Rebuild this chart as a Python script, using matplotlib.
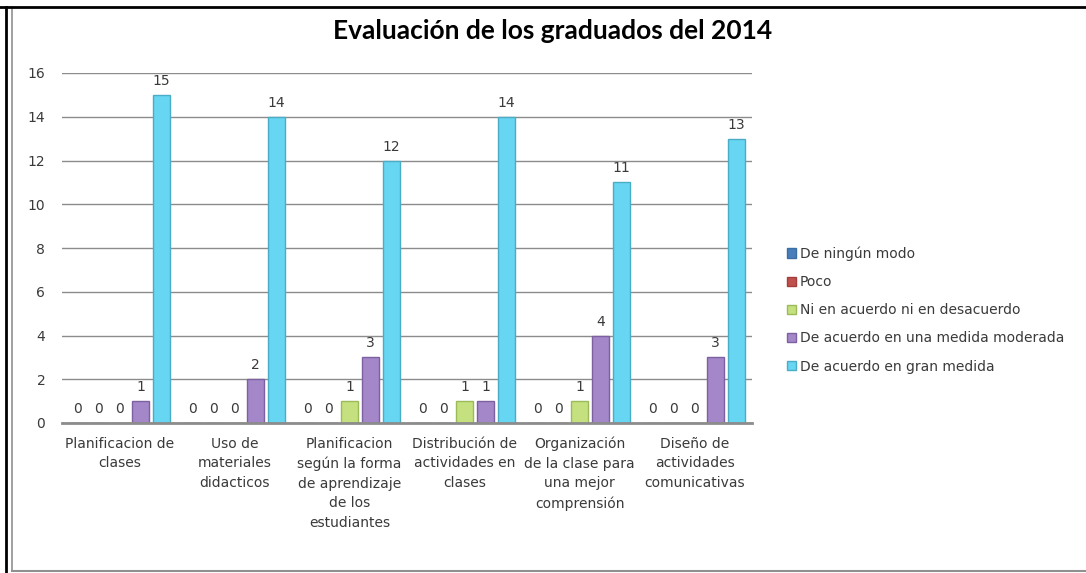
import numpy as np
import matplotlib
matplotlib.use('Agg')
import matplotlib.pyplot as plt
from matplotlib.lines import Line2D

# Datos del gráfico
categorias = ['Planificacion de\nclases',
              'Uso de\nmateriales\ndidacticos',
              'Planificacion\nsegún la forma\nde aprendizaje\nde los\nestudiantes',
              'Distribución de\nactividades en\nclases',
              'Organización\nde la clase para\nuna mejor\ncomprensión',
              'Diseño de\nactividades\ncomunicativas']
series = ['De ningún modo', 'Poco', 'Ni en acuerdo ni en desacuerdo',
          'De acuerdo en una medida moderada', 'De acuerdo en gran medida']
ningun = [0, 0, 0, 0, 0, 0]
poco = [0, 0, 0, 0, 0, 0]
ni_acuerdo = [0, 0, 1, 1, 1, 0]
moderada = [1, 2, 3, 1, 4, 3]
gran = [15, 14, 12, 14, 11, 13]
yticks = [0, 2, 4, 6, 8, 10, 12, 14, 16]

valores = [ningun, poco, ni_acuerdo, moderada, gran]
colores = ['#4a7ebb', '#c0504d', '#c5e17f', '#a487c9', '#67d6f2']
bordes = ['#3a6ea5', '#a33e3b', '#9bbb59', '#7d60a0', '#4bacc6']
texto = '#3a3a3a'

fig = plt.figure(figsize=(10.86, 5.73), dpi=100)
ax = fig.add_axes([62 / 1086, 1 - 423 / 573, 690 / 1086, 350 / 573])

x = np.arange(len(categorias))
paso = 0.183
ancho = 0.148
for i, (vals, nombre) in enumerate(zip(valores, series)):
    pos = x + (i - 2) * paso
    ax.bar(pos, vals, width=ancho, color=colores[i], edgecolor=bordes[i],
           linewidth=1, label=nombre, zorder=2)
    for xb, v in zip(pos, vals):
        ax.annotate(str(v), (xb, v), xytext=(0, 5), textcoords='offset points',
                    ha='center', va='bottom', fontsize=10, color=texto)

ax.set_xlim(-0.5, len(categorias) - 0.5)
ax.set_ylim(0, 16)
ax.set_yticks(yticks)
ax.yaxis.grid(True, color='#8c8c8c', linewidth=1, zorder=0)
ax.set_axisbelow(True)
for s in ['top', 'right', 'left']:
    ax.spines[s].set_visible(False)
ax.spines['bottom'].set_color('#8c8c8c')
ax.spines['bottom'].set_linewidth(2)
ax.spines['bottom'].set_zorder(2.5)
ax.tick_params(axis='y', length=0, pad=12, labelsize=10, labelcolor=texto)
ax.tick_params(axis='x', length=0, pad=10, labelsize=10, labelcolor=texto)
ax.set_xticks(x)
ax.set_xticklabels(categorias, linespacing=1.5, va='top')

fig.text(553 / 1086, 1 - 31 / 573, 'Evaluación de los graduados del 2014',
         ha='center', va='center', fontsize=19, fontweight='bold',
         family='Lato', color='black')

ax.legend(loc='center left', bbox_to_anchor=(774 / 1086, 1 - 310 / 573),
          bbox_transform=fig.transFigure, frameon=False, fontsize=10,
          handlelength=0.65, handleheight=0.65, handletextpad=0.3,
          labelspacing=1.02, labelcolor=texto)

# marco de la captura
fig.add_artist(Line2D([6 / 1086, 6 / 1086], [0, 1 - 7 / 573], color='black', lw=2,
                      transform=fig.transFigure))
fig.add_artist(Line2D([12 / 1086, 12 / 1086], [2 / 573, 1 - 7 / 573], color='#909090', lw=1.2,
                      transform=fig.transFigure))
fig.add_artist(Line2D([0, 1], [1 - 7 / 573, 1 - 7 / 573], color='black', lw=2,
                      transform=fig.transFigure))
fig.add_artist(Line2D([12 / 1086, 1], [2 / 573, 2 / 573], color='#909090', lw=1.5,
                      transform=fig.transFigure))

fig.savefig('out.png', dpi=100)
